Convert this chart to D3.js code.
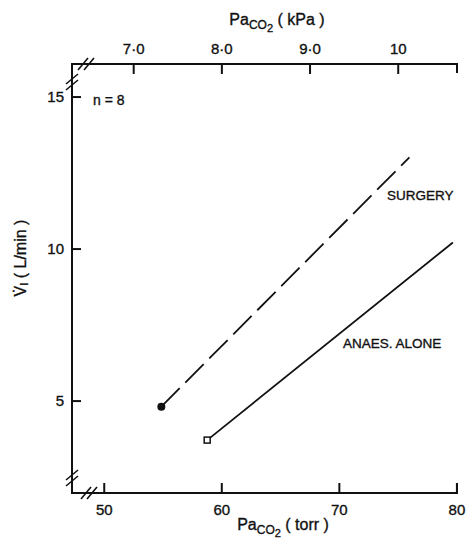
<!DOCTYPE html>
<html lang="en">
<head>
  <meta charset="UTF-8" />
  <title>Ventilation vs PaCO2</title>
  <script src="https://d3js.org/d3.v7.min.js"></script>
  <style>
    body { margin: 0; background: #fff; }
    svg { display: block; font-family: "Liberation Sans", Arial, sans-serif; }
    svg text { fill: #111; stroke: #111; stroke-width: 0.35px; }
    .axis text { font-size: 15px; }
    .axis line, .axis path { stroke: #111; stroke-width: 2; }
  </style>
</head>
<body>
  <svg id="chart" width="470" height="547"></svg>
  <script>
    // series: [PaCO2 torr, VI L/min] at start and end of each response line
    const surgery = [[54.9, 4.8], [76.0, 13.0]];
    const anaesAlone = [[58.8, 3.7], [79.7, 10.2]];
    const torrTicks = [50, 60, 70, 80];
    const kpaTicks = [7, 8, 9, 10];
    const kpaLabels = ["7·0", "8·0", "9·0", "10"];
    const viTicks = [5, 10, 15];

    const svg = d3.select("#chart");
    const mLeft = 72, mRight = 457, mTop = 64, mBottom = 493;
    const TORR_TO_KPA = 0.13332;

    const x = d3.scaleLinear().domain([47.3, 80.05]).range([mLeft, mRight]);
    const xk = d3.scaleLinear().domain(x.domain().map(d => d * TORR_TO_KPA)).range([mLeft, mRight]);
    const y = d3.scaleLinear().domain([1.96, 16.07]).range([mBottom, mTop]);

    // bottom axis (torr)
    const gx = svg.append("g").attr("class", "axis").attr("transform", `translate(0,${mBottom})`)
      .call(d3.axisBottom(x).tickValues(torrTicks).tickSizeInner(-10).tickSizeOuter(0).tickPadding(11));
    gx.select(".domain").remove();

    // top axis (kPa)
    const gt = svg.append("g").attr("class", "axis").attr("transform", `translate(0,${mTop})`)
      .call(d3.axisTop(xk).tickValues(kpaTicks).tickFormat((d, i) => kpaLabels[i])
        .tickSizeInner(-10).tickSizeOuter(0).tickPadding(10));
    gt.select(".domain").remove();

    // left axis
    const gy = svg.append("g").attr("class", "axis").attr("transform", `translate(${mLeft},0)`)
      .call(d3.axisLeft(y).tickValues(viTicks).tickSizeInner(-9).tickSizeOuter(0).tickPadding(8));
    gy.select(".domain").remove();

    // frame lines (open on the right)
    const frame = svg.append("g").attr("stroke", "#111").attr("stroke-width", 2).attr("fill", "none");
    frame.append("path").attr("d", `M${mRight},${mTop + 9}V${mTop}H${mLeft}V${mBottom}H${mRight}V${mBottom - 10}`);

    // axis break marks
    function brk(cx, cy, vertical) {
      const g = svg.append("g").attr("stroke", "#111").attr("stroke-width", 1.6);
      [-3, 3].forEach(o => {
        if (vertical) {
          g.append("line").attr("x1", cx - 6).attr("y1", cy + o + 5).attr("x2", cx + 6).attr("y2", cy + o - 5);
        } else {
          g.append("line").attr("x1", cx + o - 5).attr("y1", cy + 6).attr("x2", cx + o + 5).attr("y2", cy - 6);
        }
      });
    }
    brk(mLeft, 82, true);
    brk(mLeft, 478, true);
    brk(86, mTop, false);
    brk(89, mBottom, false);

    // lines
    const line = d3.line().x(d => x(d[0])).y(d => y(d[1]));
    svg.append("path").datum(surgery).attr("d", line)
      .attr("fill", "none").attr("stroke", "#111").attr("stroke-width", 1.8)
      .attr("stroke-dasharray", "26,8");
    svg.append("path").datum(anaesAlone).attr("d", line)
      .attr("fill", "none").attr("stroke", "#111").attr("stroke-width", 1.8);

    svg.append("circle").attr("cx", x(surgery[0][0])).attr("cy", y(surgery[0][1])).attr("r", 4).attr("fill", "#111");
    svg.append("rect").attr("x", x(anaesAlone[0][0]) - 3).attr("y", y(anaesAlone[0][1]) - 3)
      .attr("width", 6).attr("height", 6).attr("fill", "#fff").attr("stroke", "#111").attr("stroke-width", 1.5);

    // labels
    svg.append("text").attr("x", 387).attr("y", 200).attr("font-size", 13.5).text("SURGERY");
    svg.append("text").attr("x", 343).attr("y", 348).attr("font-size", 13.5).text("ANAES. ALONE");
    svg.append("text").attr("x", 93).attr("y", 105).attr("font-size", 14).text("n = 8");

    function pacoTitle(cx, cyBase, unit) {
      const t = svg.append("text").attr("x", cx).attr("y", cyBase).attr("text-anchor", "middle").attr("font-size", 16);
      t.append("tspan").text("Pa");
      t.append("tspan").attr("font-size", 12).attr("dy", 4).text("CO");
      t.append("tspan").attr("font-size", 11).attr("dy", 3).text("2");
      t.append("tspan").attr("dy", -7).text(` ( ${unit} )`);
    }
    pacoTitle(277, 25, "kPa");
    pacoTitle(283, 530, "torr");

    const yl = svg.append("text").attr("transform", "translate(26,258) rotate(-90)")
      .attr("text-anchor", "middle").attr("font-size", 16);
    yl.append("tspan").text("V\u0307");
    yl.append("tspan").attr("font-size", 11).attr("dy", 2).text("I");
    yl.append("tspan").attr("dy", -2).text("  ( L/min )");
  </script>
</body>
</html>
